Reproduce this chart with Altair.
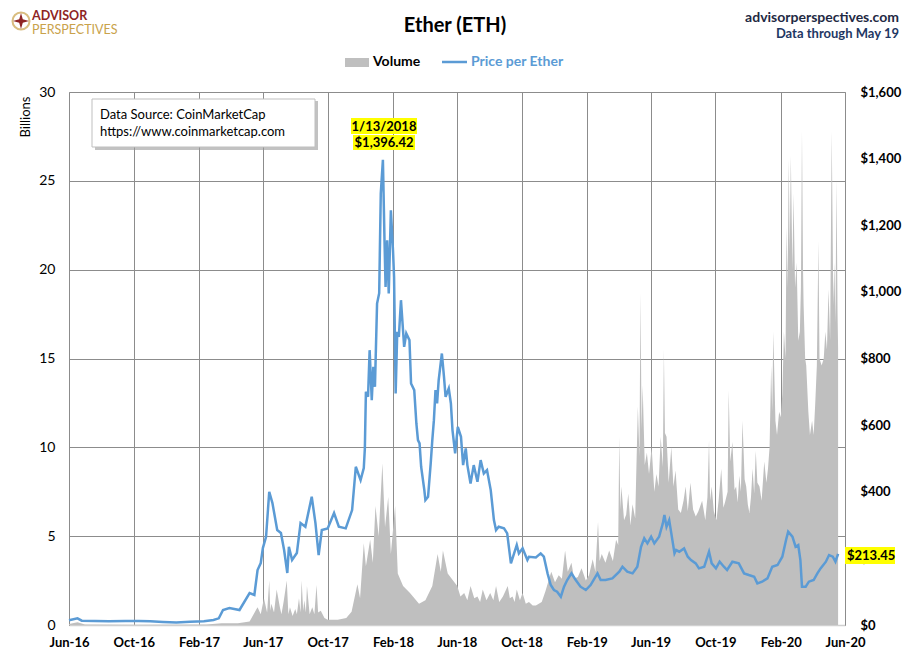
import altair as alt
import pandas as pd

# ---------------- data ----------------
price_dates_2016 = ["2016-06-01", "2016-06-17", "2016-06-25", "2016-07-20", "2016-08-15",
                    "2016-09-15", "2016-10-10", "2016-11-01", "2016-11-25", "2016-12-20"]
price_vals_2016 = [14, 20, 13, 12, 11, 12, 12, 11, 9, 7.5]

price_dates_2017 = ["2017-01-15", "2017-02-10", "2017-02-28", "2017-03-10", "2017-03-18", "2017-03-30",
                    "2017-04-18", "2017-05-07", "2017-05-16", "2017-05-22", "2017-05-28", "2017-06-01",
                    "2017-06-07", "2017-06-13", "2017-06-19", "2017-06-28", "2017-07-05", "2017-07-11",
                    "2017-07-17", "2017-07-20", "2017-07-26", "2017-08-04", "2017-08-11", "2017-08-20",
                    "2017-09-01", "2017-09-08", "2017-09-14", "2017-09-20", "2017-10-01", "2017-10-13",
                    "2017-10-22", "2017-11-04", "2017-11-16", "2017-11-23", "2017-12-02", "2017-12-08",
                    "2017-12-10", "2017-12-12", "2017-12-16", "2017-12-19", "2017-12-23", "2017-12-26",
                    "2017-12-29"]
price_vals_2017 = [10, 11, 15, 20, 45, 51, 45, 96, 90, 165, 186, 231, 265, 400, 366, 285, 276, 225,
                   156, 235, 195, 216, 306, 295, 385, 306, 210, 285, 290, 336, 295, 290, 345, 475,
                   435, 471, 530, 700, 685, 825, 675, 775, 715]

price_dates_2018 = ["2018-01-02", "2018-01-06", "2018-01-09", "2018-01-13", "2018-01-16", "2018-01-18",
                    "2018-01-21", "2018-01-24", "2018-01-28", "2018-02-01", "2018-02-03", "2018-02-06",
                    "2018-02-09", "2018-02-12", "2018-02-16", "2018-02-19", "2018-02-22", "2018-02-26",
                    "2018-03-04", "2018-03-07", "2018-03-13", "2018-03-17", "2018-03-20", "2018-03-23",
                    "2018-03-26", "2018-04-01", "2018-04-03", "2018-04-08", "2018-04-13", "2018-04-16",
                    "2018-04-19", "2018-04-22", "2018-04-25", "2018-04-28", "2018-05-04", "2018-05-08",
                    "2018-05-11", "2018-05-17", "2018-05-21", "2018-05-24", "2018-05-29", "2018-06-03",
                    "2018-06-09", "2018-06-13", "2018-06-18", "2018-06-21", "2018-06-27", "2018-07-03",
                    "2018-07-10", "2018-07-16", "2018-07-22", "2018-07-28", "2018-08-04", "2018-08-10",
                    "2018-08-14", "2018-08-19", "2018-08-29", "2018-09-04", "2018-09-11", "2018-09-17",
                    "2018-09-22", "2018-09-26", "2018-10-03", "2018-10-12", "2018-10-15", "2018-10-28",
                    "2018-11-06", "2018-11-12", "2018-11-19", "2018-11-25", "2018-12-01", "2018-12-07",
                    "2018-12-14", "2018-12-20", "2018-12-26"]
price_vals_2018 = [965, 996, 1296, 1396.42, 1155, 1015, 1155, 995, 1245,
                   1125, 1045, 695, 880, 865, 975, 905, 835, 875,
                   855, 725, 705, 605, 555, 545, 475,
                   405, 375, 385, 485, 555, 615, 705, 665, 735,
                   815, 745, 685, 710, 665, 585, 515,
                   595, 565, 480, 530, 480, 425,
                   480, 430, 495, 455, 465,
                   405, 315, 285, 295, 290,
                   275, 185, 215, 240, 215,
                   230, 195, 205, 203,
                   215, 205, 155, 120,
                   105, 100, 85, 115, 135]

price_dates_2019 = ["2019-01-03", "2019-01-11", "2019-01-20", "2019-01-30", "2019-02-08", "2019-02-21",
                    "2019-02-27", "2019-03-08", "2019-03-21", "2019-04-03", "2019-04-09", "2019-04-18",
                    "2019-04-28", "2019-05-07", "2019-05-14", "2019-05-20", "2019-05-26", "2019-06-02",
                    "2019-06-08", "2019-06-17", "2019-06-24", "2019-06-27", "2019-07-01", "2019-07-06",
                    "2019-07-10", "2019-07-16", "2019-07-19", "2019-07-25", "2019-08-03", "2019-08-10",
                    "2019-08-16", "2019-08-25", "2019-08-31", "2019-09-10", "2019-09-19", "2019-09-24",
                    "2019-10-02", "2019-10-09", "2019-10-17", "2019-10-23", "2019-11-02", "2019-11-14",
                    "2019-11-24", "2019-12-03", "2019-12-13", "2019-12-19", "2019-12-28"]
price_vals_2019 = [155, 135, 115, 105, 120, 155, 135, 135, 140, 160, 175, 160, 155, 175, 235, 260,
                   245, 265, 245, 265, 305, 330, 295, 315, 275, 215, 225, 220, 230, 205, 195, 185,
                   170, 175, 220, 185, 170, 190, 175, 165, 190, 185, 155, 150, 145, 125, 130]

price_dates_2020 = ["2020-01-07", "2020-01-16", "2020-01-26", "2020-02-04", "2020-02-11", "2020-02-15",
                    "2020-02-23", "2020-02-29", "2020-03-05", "2020-03-09", "2020-03-12", "2020-03-19",
                    "2020-03-25", "2020-04-03", "2020-04-10", "2020-04-16", "2020-04-26", "2020-05-02",
                    "2020-05-09", "2020-05-14", "2020-05-19"]
price_vals_2020 = [140, 175, 180, 205, 255, 280, 265, 235, 240, 195, 115, 115, 130, 135, 155, 170,
                   190, 210, 205, 190, 213.45]

vol_dates_a = ["2016-06-01", "2016-06-17", "2016-07-01", "2016-10-01", "2017-02-15", "2017-03-15",
               "2017-04-15", "2017-05-07", "2017-05-22", "2017-05-28", "2017-06-03", "2017-06-09",
               "2017-06-13", "2017-06-15", "2017-06-17", "2017-06-22", "2017-06-27", "2017-07-03",
               "2017-07-06", "2017-07-10", "2017-07-16", "2017-07-19", "2017-07-22", "2017-07-27",
               "2017-08-01", "2017-08-04", "2017-08-08", "2017-08-11", "2017-08-13", "2017-08-16",
               "2017-08-18", "2017-08-21", "2017-08-23", "2017-08-28", "2017-09-02", "2017-09-06",
               "2017-09-10", "2017-09-13", "2017-09-18", "2017-09-25", "2017-10-01", "2017-10-20",
               "2017-11-05", "2017-11-15", "2017-11-26", "2017-12-01", "2017-12-08", "2017-12-12",
               "2017-12-20", "2017-12-25", "2017-12-30"]
vol_vals_a = [0.05, 0.15, 0.03, 0.02, 0.03, 0.1, 0.1, 0.2, 1.0, 0.6, 1.5, 0.7,
              2.5, 0.8, 1.2, 0.7, 2.0, 1.0, 0.6, 1.3, 2.5, 0.6, 1.0, 0.5,
              0.9, 0.6, 1.5, 0.7, 2.5, 0.8, 1.4, 0.7, 2.2, 0.6, 1.0, 0.6,
              2.25, 0.7, 0.8, 0.4, 0.3, 0.3, 0.4, 0.75, 2.3, 1.5, 4.6, 3.3,
              4.8, 3.5, 6.7]

vol_dates_b = ["2018-01-05", "2018-01-12", "2018-01-17", "2018-01-23", "2018-01-28", "2018-02-05",
               "2018-02-10", "2018-02-20", "2018-03-05", "2018-03-22", "2018-04-03", "2018-04-16",
               "2018-04-26", "2018-05-02", "2018-05-06", "2018-05-15", "2018-05-25", "2018-06-02",
               "2018-06-08", "2018-06-15", "2018-06-21", "2018-06-27", "2018-07-04", "2018-07-10",
               "2018-07-15", "2018-07-20", "2018-07-27", "2018-08-03", "2018-08-09", "2018-08-14",
               "2018-08-20", "2018-08-27", "2018-09-05", "2018-09-09", "2018-09-14", "2018-09-18",
               "2018-09-22", "2018-09-28", "2018-10-03", "2018-10-09", "2018-10-15", "2018-10-22",
               "2018-10-28", "2018-11-08", "2018-11-15", "2018-11-20", "2018-11-26", "2018-12-03",
               "2018-12-10", "2018-12-16", "2018-12-22", "2018-12-27"]
vol_vals_b = [5.0, 9.1, 5.5, 7.2, 4.0, 6.7, 2.9, 2.2, 1.8, 1.2, 1.4, 2.2,
              4.0, 3.0, 4.2, 2.9, 2.5, 2.2, 1.6, 1.8, 1.4, 2.2, 1.5, 1.6,
              1.3, 2.0, 1.4, 1.8, 1.4, 2.2, 1.3, 1.6, 2.2, 1.5, 1.6, 1.3,
              2.0, 1.4, 1.8, 1.2, 1.3, 1.1, 1.1, 1.3, 1.9, 2.4, 3.0, 2.4,
              2.8, 2.6, 4.2, 3.0]

vol_dates_c = ["2019-01-03", "2019-01-08", "2019-01-15", "2019-01-22", "2019-01-30", "2019-02-05",
               "2019-02-12", "2019-02-17", "2019-02-22", "2019-02-25", "2019-03-01", "2019-03-08",
               "2019-03-15", "2019-03-22", "2019-03-28", "2019-04-01", "2019-04-03", "2019-04-05",
               "2019-04-07", "2019-04-12", "2019-04-16", "2019-04-20", "2019-04-24", "2019-04-28",
               "2019-05-03", "2019-05-08", "2019-05-11", "2019-05-13", "2019-05-15", "2019-05-17",
               "2019-05-21", "2019-05-25", "2019-05-29", "2019-06-03", "2019-06-08", "2019-06-12",
               "2019-06-16", "2019-06-20", "2019-06-24", "2019-06-26", "2019-06-28", "2019-07-01",
               "2019-07-05", "2019-07-10", "2019-07-14", "2019-07-18", "2019-07-23", "2019-07-28",
               "2019-08-02", "2019-08-06", "2019-08-10", "2019-08-15", "2019-08-20", "2019-08-25",
               "2019-08-30", "2019-09-06", "2019-09-12", "2019-09-16", "2019-09-19", "2019-09-21",
               "2019-09-24", "2019-09-28", "2019-10-03", "2019-10-07", "2019-10-12", "2019-10-16",
               "2019-10-19", "2019-10-24", "2019-10-26", "2019-10-29", "2019-11-02", "2019-11-06",
               "2019-11-09", "2019-11-12", "2019-11-15", "2019-11-18", "2019-11-21", "2019-11-25",
               "2019-11-28", "2019-12-01", "2019-12-04", "2019-12-07", "2019-12-10", "2019-12-13",
               "2019-12-16", "2019-12-19", "2019-12-23", "2019-12-27"]
vol_vals_c = [3.5, 2.6, 2.7, 3.2, 2.5, 2.8, 3.7, 3.0, 5.8, 3.6, 4.0, 3.5,
              4.2, 3.6, 4.8, 4.5, 10.6, 6.5, 7.8, 5.9, 6.2, 7.4, 5.6, 6.8,
              6.0, 12.3, 9.5, 18.7, 11.0, 13.5, 9.0, 9.7, 8.5, 10.0, 7.5, 8.5,
              7.8, 10.6, 8.9, 15.5, 10.8, 10.6, 8.0, 10.0, 7.8, 8.7, 6.5, 6.3,
              7.0, 7.8, 6.4, 8.0, 6.5, 6.1, 6.4, 7.0, 5.9, 7.2, 10.4, 7.0,
              7.8, 6.4, 5.9, 7.0, 8.8, 6.6, 6.9, 7.5, 13.2, 9.2, 10.3, 7.6,
              7.8, 6.9, 8.4, 7.5, 11.5, 8.2, 7.8, 6.8, 6.3, 7.2, 8.8, 7.4,
              9.8, 8.0, 7.8, 7.0]

vol_dates_d = ["2020-01-01", "2020-01-05", "2020-01-08", "2020-01-11", "2020-01-14", "2020-01-16",
               "2020-01-18", "2020-01-22", "2020-01-25", "2020-01-29", "2020-02-01", "2020-02-04",
               "2020-02-07", "2020-02-10", "2020-02-12", "2020-02-14", "2020-02-16", "2020-02-18",
               "2020-02-20", "2020-02-23", "2020-02-25", "2020-02-28", "2020-03-02", "2020-03-05",
               "2020-03-08", "2020-03-10", "2020-03-12", "2020-03-14", "2020-03-15", "2020-03-18",
               "2020-03-20", "2020-03-24", "2020-03-27", "2020-03-31", "2020-04-03", "2020-04-06",
               "2020-04-09", "2020-04-12", "2020-04-14", "2020-04-18", "2020-04-22", "2020-04-25",
               "2020-04-28", "2020-05-01", "2020-05-04", "2020-05-07", "2020-05-10", "2020-05-12",
               "2020-05-14", "2020-05-16", "2020-05-18", "2020-05-19"]
vol_vals_d = [9.2, 8.0, 8.8, 10.0, 14.6, 12.0, 16.5, 11.5, 10.7, 12.0, 11.7, 13.0,
              16.5, 15.0, 22.4, 19.0, 26.2, 21.0, 26.4, 20.0, 24.3, 19.0, 20.4, 16.0,
              16.5, 19.0, 27.8, 20.0, 18.1, 15.0, 14.6, 12.0, 10.7, 11.5, 10.7, 12.5,
              14.6, 21.6, 15.0, 14.6, 15.0, 16.5, 15.5, 18.9, 16.0, 27.8, 18.0, 20.4,
              17.0, 25.1, 17.5, 15.6]

tick_months = [(2016, 6), (2016, 10), (2017, 2), (2017, 6), (2017, 10), (2018, 2), (2018, 6),
               (2018, 10), (2019, 2), (2019, 6), (2019, 10), (2020, 2), (2020, 6)]
vol_ticks = [0, 5, 10, 15, 20, 25, 30]
price_ticks = [0, 200, 400, 600, 800, 1000, 1200, 1400, 1600]

# ---------------- build tables ----------------
price_df = pd.DataFrame({
    "date": price_dates_2016 + price_dates_2017 + price_dates_2018 + price_dates_2019 + price_dates_2020,
    "price": price_vals_2016 + price_vals_2017 + price_vals_2018 + price_vals_2019 + price_vals_2020,
})
vol_df = pd.DataFrame({
    "date": vol_dates_a + vol_dates_b + vol_dates_c + vol_dates_d,
    "volume": vol_vals_a + vol_vals_b + vol_vals_c + vol_vals_d,
})

FONT = "Lato"
GRID = "#8c8c8c"
BLUE = "#5B9BD5"
RED = "#8E2424"
GOLD = "#C9A24B"

x_vals = [alt.DateTime(year=y, month=m, date=1, utc=True) for (y, m) in tick_months]
x_enc = alt.X(
    "date:T",
    scale=alt.Scale(type="utc", domain=[x_vals[0], x_vals[-1]]),
    axis=alt.Axis(values=x_vals, labelExpr="utcFormat(datum.value, '%b-%y')", title=None, grid=True,
                  gridColor=GRID, gridWidth=1, ticks=False, labelFont=FONT, labelFontSize=13,
                  labelFontWeight="bold", labelColor="#000000", labelPadding=11,
                  domainColor="#d0d0d0", domainWidth=1.5, labelOverlap=False, labelFlush=False),
)

area = alt.Chart(vol_df).mark_area(color="#BFBFBF", opacity=1).encode(
    x=x_enc,
    y=alt.Y("volume:Q", scale=alt.Scale(domain=[0, 30], nice=False, zero=True),
            axis=alt.Axis(values=vol_ticks, title=None, grid=True, gridColor=GRID, gridWidth=1,
                          ticks=False, domainColor=GRID, labelFont=FONT, labelFontSize=14,
                          labelColor="#000000", labelPadding=14)),
)

line = alt.Chart(price_df).mark_line(color=BLUE, strokeWidth=2.5).encode(
    x=alt.X("date:T"),
    y=alt.Y("price:Q", scale=alt.Scale(domain=[0, 1600], nice=False, zero=True),
            axis=alt.Axis(orient="right", values=price_ticks, format="$,.0f", title=None, grid=False,
                          ticks=False, domainColor=GRID, labelFont=FONT, labelFontSize=13,
                          labelFontWeight="bold", labelColor="#000000", labelPadding=15)),
)

one = alt.Data(values=[{"k": 1}])


def txt(text, x, y, size=13, weight="normal", color="#000000", align="left", angle=0, font=FONT):
    return alt.Chart(one).mark_text(text=text, fontSize=size, fontWeight=weight, color=color,
                                    align=align, baseline="middle", font=font, angle=angle).encode(
        x=alt.value(x), y=alt.value(y))


def box(x, x2, y, y2, fill, stroke=None, sw=0, opacity=1.0):
    kw = dict(fill=fill, opacity=opacity, strokeWidth=sw)
    if stroke:
        kw["stroke"] = stroke
    return alt.Chart(one).mark_rect(**kw).encode(
        x=alt.value(x), x2=alt.value(x2), y=alt.value(y), y2=alt.value(y2))


# plot origin is page (69, 92)
OX, OY = 69, 92


def px(X):
    return X - OX


def py(Y):
    return Y - OY


layers = [area, line]

# Title
layers.append(txt("Ether (ETH)", px(455), py(26), size=20, weight="bold", align="center"))

# Logo
cx, cy = px(21), py(21)
layers.append(alt.Chart(one).mark_point(shape="circle", size=290, filled=False, stroke=GOLD,
                                        strokeWidth=2).encode(x=alt.value(cx), y=alt.value(cy)))
layers.append(alt.Chart(one).mark_point(
    shape="M0,-1L0.22,-0.22L1,0L0.22,0.22L0,1L-0.22,0.22L-1,0L-0.22,-0.22Z",
    size=260, filled=True, fill=RED, strokeWidth=0, opacity=1).encode(
    x=alt.value(cx), y=alt.value(cy)))
layers.append(txt("ADVISOR", px(32), py(16), size=12.5, weight="bold", color=RED))
layers.append(txt("PERSPECTIVES", px(32), py(29.5), size=12.5, weight="normal", color=GOLD))

# Top right
layers.append(txt("advisorperspectives.com", px(899), py(17.5), size=14, weight="bold", color="#1F2A44",
                  align="right"))
layers.append(txt("Data through May 19", px(899), py(34), size=13, weight="bold", color="#1F3864",
                  align="right"))

# Legend
layers.append(box(px(345), px(369), py(58), py(67), fill="#BFBFBF"))
layers.append(txt("Volume", px(373), py(62), size=14, weight="bold"))
layers.append(alt.Chart(one).mark_rule(color=BLUE, strokeWidth=2.5).encode(
    x=alt.value(px(442)), x2=alt.value(px(467)), y=alt.value(py(62))))
layers.append(txt("Price per Ether", px(471), py(62), size=14, weight="bold", color=BLUE))

# Axis title
layers.append(txt("Billions", px(26), py(117), size=13, angle=270, align="center"))

# Data source box with shadow
layers.append(box(px(95), px(318), py(101), py(150), fill="#9a9a9a", opacity=0.6))
layers.append(box(px(92), px(315), py(99), py(147), fill="#ffffff", stroke="#bfbfbf", sw=1))
layers.append(txt("Data Source: CoinMarketCap", px(100), py(115), size=13))
layers.append(txt("https://www.coinmarketcap.com", px(100), py(132), size=13))

# Peak annotation with yellow highlight
layers.append(box(px(351), px(417), py(118), py(134), fill="#FFFF00"))
layers.append(box(px(353), px(415), py(135), py(150), fill="#FFFF00"))
layers.append(txt("1/13/2018", px(384), py(126.5), size=13, weight="bold", align="center"))
layers.append(txt("$1,396.42", px(384), py(142.5), size=13, weight="bold", align="center"))

# Last value label
layers.append(box(px(845), px(895), py(547), py(564), fill="#FFFF00"))
layers.append(txt("$213.45", px(847), py(555.5), size=13, weight="bold"))

chart = alt.layer(*layers).resolve_scale(y="independent").properties(
    width=776,
    height=533,
    padding={"left": 61, "top": 84, "right": 57, "bottom": 28},
    autosize=alt.AutoSizeParams(type="none"),
    background="#ffffff",
).configure_view(strokeWidth=0)

chart.save("out.html", embed_options={"renderer": "svg", "actions": False})
